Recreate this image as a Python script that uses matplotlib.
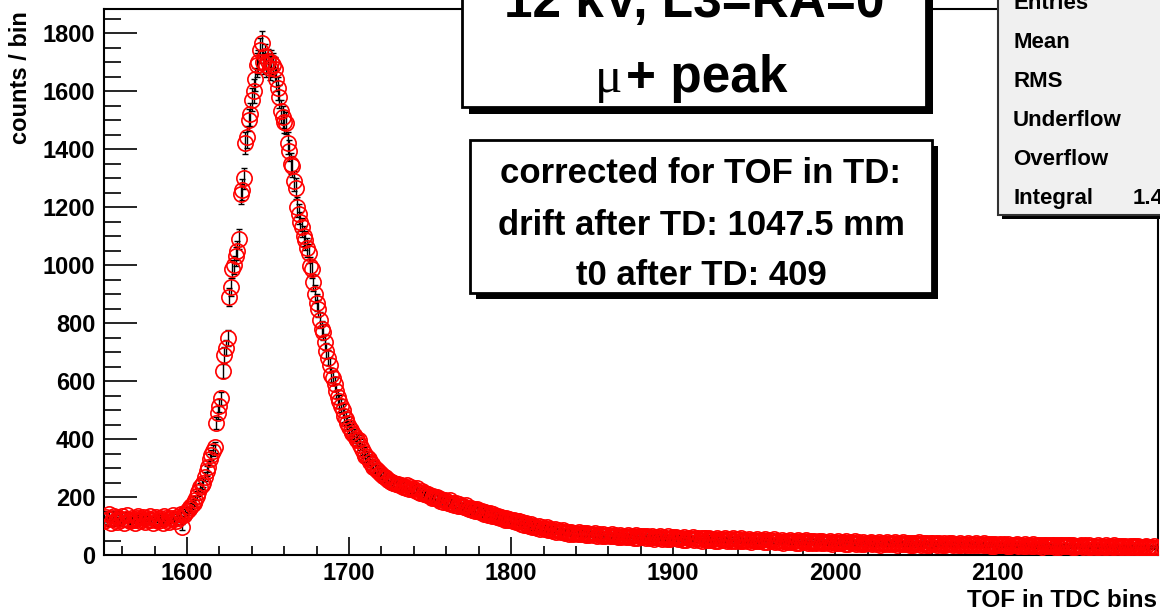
import numpy as np
import matplotlib
matplotlib.use('Agg')
import matplotlib.pyplot as plt
from matplotlib.patches import Rectangle
from matplotlib.ticker import MultipleLocator

# -------------------------------------------
# TOF spectrum, mu+ peak (1 TDC bin per point)
# -------------------------------------------
bin_start = 1549
counts = [
    118, 132, 125, 141, 110, 127, 136, 121, 115, 128,
    119, 133, 112, 125, 138, 120, 116, 129, 122, 110,
    126, 134, 118, 123, 130, 114, 127, 121, 136, 119,
    112, 125, 131, 117, 128, 122, 109, 133, 126, 120,
    115, 129, 137, 124, 118, 131, 126, 140, 97,
    138, 145, 152, 158, 166, 172, 181, 190, 205, 218, 234, 242,
    250, 270, 290, 305, 330, 345, 360, 372, 455, 490,
    515, 540, 635, 690, 715, 748, 890, 925, 985, 1000,
    1030, 1050, 1090, 1245, 1260, 1300, 1420, 1440, 1500, 1520,
    1570, 1600, 1640, 1690, 1700, 1740, 1765, 1700, 1720, 1690,
    1705, 1680, 1700, 1690, 1675, 1640, 1610, 1580, 1530, 1510,
    1495, 1490, 1420, 1395, 1350, 1340, 1290, 1265, 1200, 1175,
    1150, 1130, 1100, 1085, 1060, 1040, 995, 985, 940, 900,
    870, 850, 810, 780, 770, 735, 705, 680, 655, 620,
    610, 590, 565, 545, 530, 515, 500, 480, 470, 455,
    440, 430, 420, 415, 405, 398, 395, 380, 365, 352,
    340, 338, 330, 322, 315, 305, 300, 292, 290, 284,
    280, 272, 268, 265, 258, 256, 252, 250, 248, 245,
    246, 240, 243, 236, 238, 232, 241, 229, 233, 226,
    228, 222, 231, 218, 215, 221, 210, 213, 206, 209,
    205, 198, 202, 195, 199, 192, 186, 194, 183, 188,
    185, 179, 188, 176, 181, 174, 178, 170, 176, 168,
    170, 164, 172, 161, 158, 163, 155, 160, 151, 157,
    153, 147, 152, 143, 149, 145, 138, 144, 135, 140,
    135, 130, 136, 127, 132, 128, 122, 129, 119, 125,
    122, 116, 121, 113, 118, 116, 108, 113, 104, 109,
    105, 100, 107, 97, 101, 98, 94, 100, 91, 96,
    93, 89, 95, 86, 90, 87, 83, 89, 80, 85,
    82, 79, 85, 76, 81, 78, 74, 80, 72, 77,
    76, 73, 79, 71, 76, 75, 70, 77, 69, 74,
    73, 69, 75, 67, 72, 70, 66, 73, 64, 70,
    70, 66, 72, 64, 69, 67, 62, 70, 61, 67,
    67, 63, 69, 61, 66, 65, 60, 68, 59, 64,
    65, 61, 67, 58, 64, 62, 57, 66, 56, 62,
    63, 59, 65, 56, 62, 60, 55, 64, 54, 60,
    61, 57, 63, 55, 60, 58, 53, 62, 52, 59,
    59, 55, 61, 53, 58, 57, 51, 60, 50, 57,
    57, 53, 60, 51, 56, 55, 50, 59, 49, 55,
    56, 52, 58, 50, 55, 54, 48, 57, 47, 54,
    54, 50, 57, 48, 53, 52, 47, 56, 46, 52,
    53, 49, 55, 47, 52, 51, 45, 54, 44, 51,
    51, 47, 54, 45, 50, 49, 44, 53, 43, 49,
    50, 46, 52, 44, 49, 48, 42, 51, 42, 48,
    48, 45, 51, 43, 47, 47, 41, 50, 40, 46,
    47, 43, 49, 42, 46, 45, 40, 48, 39, 45,
    45, 42, 48, 40, 45, 44, 39, 47, 38, 44,
    44, 41, 47, 39, 44, 43, 38, 46, 37, 43,
    43, 40, 46, 38, 43, 42, 37, 45, 36, 42,
    43, 39, 45, 38, 42, 41, 37, 44, 36, 41,
    42, 39, 44, 37, 41, 41, 36, 43, 35, 41,
    41, 38, 44, 36, 41, 40, 35, 43, 35, 40,
    40, 37, 43, 36, 40, 39, 35, 42, 34, 39,
    40, 37, 42, 35, 39, 39, 34, 41, 33, 38,
    39, 36, 41, 34, 38, 38, 33, 40, 33, 38,
    38, 35, 40, 34, 38, 37, 32, 39, 32, 37,
    36, 34, 39, 33, 37, 36, 31, 38, 31, 36,
    36, 33, 38, 32, 36, 35, 31, 37, 30, 35,
    35, 32, 37, 31, 35, 34, 30, 36, 29, 34,
    34, 31, 36, 31, 34, 34, 29, 36, 29, 33,
    33, 31, 35, 30, 33, 33, 28, 35, 28, 32,
    32, 30, 35, 29, 33, 32, 28, 34, 27, 32,
    31, 29, 34, 28, 32, 31, 27, 33, 27, 31,
    30, 28, 33, 28, 31, 30, 26, 32, 26, 30,
    29, 28, 32, 27, 30, 30, 26, 31, 25, 29,
    29, 27, 31, 26, 29, 29, 25, 30, 25,
]

title_lines = ['12 kV, L3=RA=0', 'peak']
info_lines = ['corrected for TOF in TD:', 'drift after TD: 1047.5 mm', 't0 after TD: 409']
stat_names = ['Entries', 'Mean', 'RMS', 'Underflow', 'Overflow', 'Integral']
integral_txt = '1.4'

W, H = 1160, 613
plt.rcParams['font.family'] = ['Liberation Sans', 'DejaVu Sans']
plt.rcParams['font.weight'] = 'bold'

fig = plt.figure(figsize=(W / 100, H / 100), dpi=100)
ax = fig.add_axes([103.5 / W, 1 - 555 / H, (1157.5 - 103.5) / W, (555 - 9) / H])

x = bin_start + np.arange(len(counts))
y = np.array(counts, dtype=float)

ax.errorbar(x, y, yerr=np.sqrt(y), fmt='none', ecolor='black', elinewidth=1.0,
            capsize=2.2, capthick=1.0, zorder=2)
ax.plot(x, y, 'o', mfc='none', mec='#ff0000', mew=1.2, ms=11, zorder=3)

ax.set_xlim(1548.4, 2199)
ax.set_ylim(0, 1883)
ax.xaxis.set_major_locator(MultipleLocator(100))
ax.xaxis.set_minor_locator(MultipleLocator(20))
ax.yaxis.set_major_locator(MultipleLocator(200))
ax.yaxis.set_minor_locator(MultipleLocator(50))
ax.tick_params(axis='x', which='major', direction='in', length=13, width=1.2, pad=5, labelsize=17)
ax.tick_params(axis='x', which='minor', direction='in', length=6.5, width=1.2)
ax.tick_params(axis='y', which='major', direction='in', length=24, width=1.2, pad=6, labelsize=17)
ax.tick_params(axis='y', which='minor', direction='in', length=12, width=1.2)
for lab in ax.get_xticklabels() + ax.get_yticklabels():
    lab.set_fontweight('bold')
for sp in ax.spines.values():
    sp.set_linewidth(1.5)


def fx(px):
    return px / W


def fy(py):
    return 1 - py / H


def box(x0, y0, x1, y1, shadow, face='white', lw=2.0, edge='black'):
    fig.add_artist(Rectangle((fx(x0 + shadow), fy(y1 + shadow)), (x1 - x0) / W, (y1 - y0) / H,
                             transform=fig.transFigure, facecolor='black', edgecolor='black',
                             lw=0, zorder=5))
    fig.add_artist(Rectangle((fx(x0), fy(y1)), (x1 - x0) / W, (y1 - y0) / H,
                             transform=fig.transFigure, facecolor=face, edgecolor=edge,
                             lw=lw, zorder=6))


# title pave
box(462, -30, 926, 107, 7)
fig.text(fx(694), fy(17), title_lines[0], ha='center', va='baseline', fontsize=37,
         fontweight='bold', zorder=7)
fig.text(fx(622), fy(92), '\u03bc', ha='right', va='baseline', fontsize=37,
         family='Liberation Serif', fontweight='normal', zorder=7)
fig.text(fx(626), fy(92), '+ ' + title_lines[1], ha='left', va='baseline', fontsize=37,
         fontweight='bold', zorder=7)

# info pave
box(470, 140, 932, 293, 6)
for txt, yb in zip(info_lines, [183, 235, 285]):
    fig.text(fx(701), fy(yb), txt, ha='center', va='baseline', fontsize=25,
             fontweight='bold', zorder=7)

# stats pave
box(998, -30, 1175, 215, 4, face='#f0f0f0', lw=1.5, edge='#333333')
for i, name in enumerate(stat_names):
    fig.text(fx(1013), fy(9 + 39 * i), name, ha='left', va='baseline', fontsize=16,
             fontweight='bold', zorder=7)
fig.text(fx(1133), fy(204), integral_txt, ha='left', va='baseline', fontsize=16,
         fontweight='bold', zorder=7)

# axis titles
fig.text(fx(21), fy(78), 'counts / bin', rotation=90, ha='center', va='center',
         fontsize=17, fontweight='bold')
fig.text(fx(1157), fy(607), 'TOF in TDC bins', ha='right', va='baseline',
         fontsize=17.5, fontweight='bold')

fig.savefig('out.png', dpi=100)
